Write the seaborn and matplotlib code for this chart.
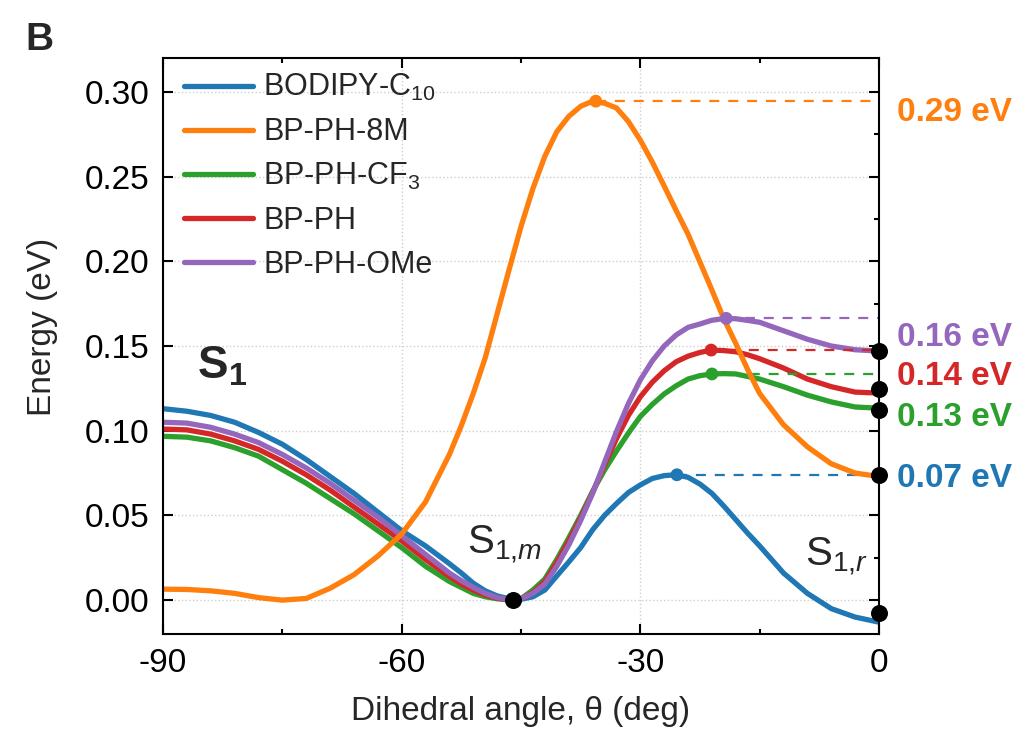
import numpy as np
import pandas as pd
import seaborn as sns
import matplotlib.pyplot as plt
from matplotlib.ticker import FormatStrFormatter

# Data (S1 torsional scan); finer steps where the curves bend most
theta = [-90, -87, -84, -81, -78, -75, -72, -69, -66, -63, -60, -57, -54,
         -52.5, -51, -49.5, -48, -46.5, -45, -43.5, -42, -40.5, -39, -37.5, -36, -34.5,
         -33, -31.5, -30, -28.5, -27, -25.5, -24, -22.5, -21, -19.5, -18, -16.5,
         -15, -12, -9, -6, -3, 0]

bodipy_c10 = [0.113, 0.1115, 0.109, 0.105, 0.099, 0.092, 0.083, 0.073, 0.063, 0.052, 0.041,
              0.032, 0.0215,
              0.016, 0.010, 0.0055, 0.0025, 0.0008, 0.0005, 0.002, 0.006, 0.0143, 0.0225,
              0.031, 0.0415, 0.050, 0.057, 0.0635, 0.068, 0.0718, 0.0735, 0.074, 0.0725,
              0.0685, 0.063, 0.0555, 0.0475, 0.0395,
              0.032, 0.016, 0.004, -0.005, -0.010, -0.013]
bp_ph_8m = [0.0065, 0.0063, 0.0055, 0.004, 0.0015, 0.0, 0.001, 0.007, 0.015, 0.026, 0.039,
            0.058, 0.086,
            0.103, 0.122, 0.143, 0.169, 0.195, 0.2205, 0.243, 0.262, 0.2765, 0.2855, 0.2915,
            0.2945, 0.2933, 0.2905, 0.2825, 0.2715, 0.2586, 0.2444, 0.230, 0.216, 0.1995,
            0.183, 0.166, 0.1515, 0.136,
            0.122, 0.1035, 0.0905, 0.0805, 0.075, 0.073]
bp_ph_cf3 = [0.0967, 0.0962, 0.094, 0.090, 0.085, 0.077, 0.069, 0.060, 0.051, 0.041, 0.031,
             0.020, 0.011,
             0.0075, 0.004, 0.002, 0.0008, 0.0002, 0.0008, 0.006, 0.0125, 0.024, 0.0367,
             0.050, 0.0642, 0.0768, 0.088, 0.0986, 0.1084, 0.1155, 0.1217, 0.1265, 0.1305,
             0.1325, 0.1335, 0.1337, 0.1335, 0.132,
             0.1305, 0.126, 0.121, 0.117, 0.114, 0.1133]
bp_ph = [0.101, 0.1005, 0.098, 0.094, 0.089, 0.082, 0.074, 0.065, 0.055, 0.045, 0.035,
         0.024, 0.014,
         0.0095, 0.006, 0.003, 0.0012, 0.0002, 0.0008, 0.0045, 0.011, 0.0222, 0.0348,
         0.0486, 0.0634, 0.0798, 0.0953, 0.109, 0.120, 0.1286, 0.1354, 0.1407, 0.1440,
         0.1462, 0.1476, 0.1473, 0.1466, 0.1448,
         0.1425, 0.137, 0.1305, 0.126, 0.1228, 0.1222]
bp_ph_ome = [0.105, 0.1045, 0.102, 0.098, 0.093, 0.086, 0.078, 0.069, 0.059, 0.049, 0.038,
             0.027, 0.016,
             0.0115, 0.0075, 0.004, 0.0015, 0.0003, 0.0008, 0.004, 0.0095, 0.020, 0.0325,
             0.047, 0.063, 0.0813, 0.0995, 0.116, 0.130, 0.1412, 0.150, 0.1565, 0.161,
             0.163, 0.1652, 0.1662, 0.1661, 0.1651,
             0.164, 0.159, 0.154, 0.150, 0.1478, 0.147]

molecules = ['BODIPY-C$_{10}$', 'BP-PH-8M', 'BP-PH-CF$_3$', 'BP-PH', 'BP-PH-OMe']
colors = ['#1f77b4', '#ff7f0e', '#2ca02c', '#d62728', '#9467bd']

# barrier tops (same order as molecules)
peak_theta = [-25.4, -35.6, -21.0, -21.1, -19.2]
peak_energy = [0.074, 0.2945, 0.1335, 0.1476, 0.1663]
barrier_labels = ['0.07 eV', '0.29 eV', '0.13 eV', '0.14 eV', '0.16 eV']
barrier_label_y = [0.072, 0.2877, 0.108, 0.132, 0.155]

# S1,m minimum and S1,r end points
state_theta = [-46, 0, 0, 0, 0, 0]
state_energy = [0.0, -0.0073, 0.0737, 0.1124, 0.1245, 0.147]

sns.set_style('ticks')
plt.rcParams['font.family'] = ['Liberation Sans', 'DejaVu Sans']
plt.rcParams['mathtext.fontset'] = 'custom'
plt.rcParams['mathtext.rm'] = 'Liberation Sans'
plt.rcParams['mathtext.it'] = 'Liberation Sans:italic'
plt.rcParams['mathtext.bf'] = 'Liberation Sans:bold'
plt.rcParams['mathtext.default'] = 'regular'
plt.rcParams['axes.unicode_minus'] = False

series = [bodipy_c10, bp_ph_8m, bp_ph_cf3, bp_ph, bp_ph_ome]
df = pd.concat([pd.DataFrame({'theta': theta, 'energy': s, 'molecule': m})
                for s, m in zip(series, molecules)], ignore_index=True)

fig, ax = plt.subplots(figsize=(10.26, 7.34), dpi=100)
fig.subplots_adjust(left=0.1589, right=0.8567, bottom=0.1362, top=0.921)

sns.lineplot(data=df, x='theta', y='energy', hue='molecule', hue_order=molecules,
             palette=colors, lw=3.8, estimator=None, sort=False, ax=ax,
             solid_joinstyle='round')
ax.lines[1].set_zorder(2.5)

# dashed guides from barrier top to the right axis
for px, py, c in zip(peak_theta, peak_energy, colors):
    ax.hlines(py, px, 0, colors=c, lw=1.6, linestyles=(0, (4.5, 4)), zorder=2.2)

ax.scatter(peak_theta, peak_energy, s=85, c=colors, zorder=4, linewidths=0)
ax.scatter(state_theta, state_energy, s=150, c='black', zorder=5, linewidths=0, clip_on=False)

for lbl, y, c in zip(barrier_labels, barrier_label_y, colors):
    ax.text(2.26, y, lbl, color=c, fontsize=24, fontweight='bold', ha='left', va='center',
            clip_on=False)

ax.text(-85.7, 0.131, r'$\mathbf{S_1}$', fontsize=33, ha='left', va='baseline')
ax.text(-51.8, 0.027, r'S$_{1{,}\mathit{m}}$', fontsize=29, ha='left', va='baseline')
ax.text(-9.3, 0.020, r'S$_{1{,}\mathit{r}}$', fontsize=29, ha='left', va='baseline')

ax.set_xlim(-90, 0)
ax.set_ylim(-0.02, 0.32)
ax.set_xticks([-90, -60, -30, 0])
ax.set_xticks([-75, -45, -15], minor=True)
ax.set_yticks([0.0, 0.05, 0.10, 0.15, 0.20, 0.25, 0.30])
ax.set_yticks([0.025, 0.075, 0.125, 0.175, 0.225, 0.275], minor=True)
ax.yaxis.set_major_formatter(FormatStrFormatter('%.2f'))

ax.grid(True, which='major', linestyle=':', color='#cfcfcf', lw=1.0)
ax.set_axisbelow(True)
ax.tick_params(which='major', direction='in', length=7.5, width=1.5, top=True, right=True,
               labelsize=24, pad=10, colors='black')
ax.tick_params(which='minor', direction='in', length=3.5, width=1.5, top=True, right=True,
               left=False, colors='black')
for sp in ax.spines.values():
    sp.set_linewidth(1.5)
    sp.set_color('black')

ax.set_xlabel('Dihedral angle, θ (deg)', fontsize=24)
ax.set_ylabel('Energy (eV)', fontsize=24)
ax.xaxis.set_label_coords(0.5, -0.108)
ax.yaxis.set_label_coords(-0.147, 0.533)

handles, labels = ax.get_legend_handles_labels()
ax.legend(handles, labels, frameon=False, fontsize=22, loc='upper left',
          bbox_to_anchor=(0.029, 0.975), borderpad=0, borderaxespad=0,
          handlelength=2.25, handletextpad=0.35, labelspacing=0.45)

fig.text(25 / 1026, 1 - 50 / 734, 'B', fontsize=28, fontweight='bold', va='baseline')

fig.savefig('out.png', dpi=100)
